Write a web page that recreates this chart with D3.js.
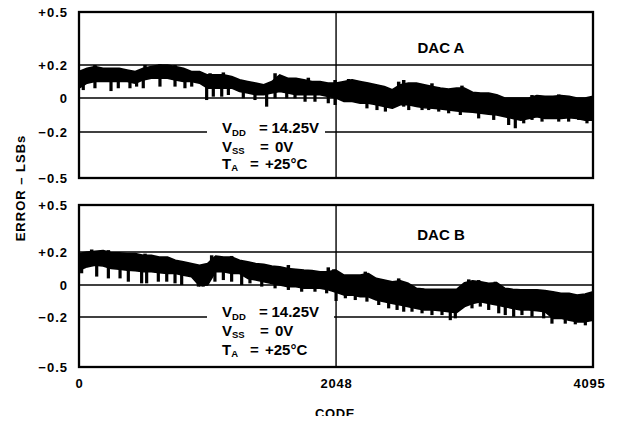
<!DOCTYPE html>
<html>
<head>
<meta charset="utf-8">
<script src="https://cdn.jsdelivr.net/npm/d3@7"></script>
<style>
  html, body { margin: 0; padding: 0; background: #fff; }
  svg { display: block; }
  text { font-family: "Liberation Sans", Arial, Helvetica, sans-serif; font-weight: bold; fill: #000; }
</style>
</head>
<body>
<svg id="chart" width="619" height="425"></svg>
<script>
// ---------------- DATA ----------------
const codes = [0,64,128,192,256,320,384,448,512,576,640,704,768,832,896,960,
  1024,1088,1152,1216,1280,1344,1408,1472,1536,1600,1664,1728,1792,1856,1920,1984,
  2048,2112,2176,2240,2304,2368,2432,2496,2560,2624,2688,2752,2816,2880,2944,3008,
  3072,3136,3200,3264,3328,3392,3456,3520,3584,3648,3712,3776,3840,3904,3968,4032,4095];

// DAC A: upper / lower edge of the error band (LSBs)
const dacAUpper = [0.16,0.18,0.19,0.18,0.18,0.18,0.17,0.16,0.18,0.19,0.20,0.20,0.19,0.18,0.16,0.16,
  0.14,0.14,0.14,0.13,0.11,0.10,0.09,0.08,0.10,0.14,0.12,0.12,0.11,0.10,0.10,0.09,
  0.09,0.10,0.11,0.10,0.09,0.08,0.07,0.05,0.08,0.09,0.09,0.08,0.07,0.06,0.055,0.06,
  0.06,0.035,0.03,0.03,0.02,0.0,0.0,0.0,0.0,0.015,0.01,0.01,0.015,0.01,0.0,0.0,0.01];
const dacALower = [0.06,0.09,0.10,0.10,0.10,0.10,0.10,0.09,0.11,0.12,0.12,0.12,0.11,0.10,0.10,0.09,
  0.06,0.06,0.06,0.06,0.04,0.03,0.02,0.02,0.03,0.04,0.03,0.02,0.02,0.02,0.02,0.01,
  0.0,-0.02,-0.02,-0.03,-0.03,-0.04,-0.05,-0.06,-0.04,-0.04,-0.05,-0.057,-0.06,-0.065,-0.07,-0.076,
  -0.08,-0.084,-0.09,-0.096,-0.10,-0.11,-0.12,-0.13,-0.12,-0.11,-0.12,-0.12,-0.12,-0.116,-0.12,-0.13,-0.13];
// DAC A: downward glitch spikes [code, tip value]
const dacASpikes = [[34,0.048],[127,0.059],[255,0.042],[313,0.059],[406,0.059],[459,0.069],[512,0.059],
  [645,0.069],[765,0.069],[844,0.059],[898,0.069],[1017,-0.012],[1070,0.008],[1137,0.008],[1190,0.018],
  [1309,-0.002],[1402,-0.012],[1495,-0.051],[1562,-0.002],[1655,-0.002],[1721,-0.002],[1801,-0.022],
  [1880,-0.022],[1986,-0.031],[2040,-0.041],[2294,-0.061],[2374,-0.071],[2441,-0.080],[2587,-0.051],
  [2627,-0.071],[2733,-0.071],[2786,-0.071],[2866,-0.080],[2945,-0.090],[3038,-0.100],[3184,-0.120],
  [3304,-0.129],[3423,-0.159],[3476,-0.178],[3543,-0.149],[3609,-0.129],[3689,-0.139],[3742,-0.120],
  [3822,-0.139],[3901,-0.139],[3981,-0.129],[4047,-0.149]];
// DAC A: upward peaks [code, tip value]
const dacAPeaks = [[127,0.20],[526,0.20],[645,0.204],[765,0.20],[1044,0.15],[1150,0.155],[1562,0.15],
  [1827,0.123],[2040,0.109],[2148,0.115],[2547,0.099],[2587,0.109],[2812,0.089],[3051,0.075],
  [3609,0.018],[3822,0.022]];

// DAC B
const dacBUpper = [0.19,0.20,0.205,0.21,0.195,0.195,0.19,0.19,0.18,0.18,0.17,0.17,0.15,0.14,0.13,0.12,
  0.13,0.175,0.17,0.17,0.15,0.14,0.13,0.125,0.115,0.11,0.10,0.095,0.09,0.087,0.08,0.08,
  0.09,0.06,0.06,0.06,0.07,0.04,0.03,0.02,0.026,0.01,-0.02,-0.025,-0.027,-0.027,-0.027,-0.027,
  0.014,0.026,0.02,0.01,0.014,-0.02,-0.027,-0.03,-0.03,-0.03,-0.035,-0.042,-0.052,-0.052,-0.063,-0.056,-0.042];
const dacBLower = [0.09,0.11,0.12,0.115,0.10,0.095,0.09,0.087,0.08,0.08,0.075,0.07,0.07,0.06,0.05,-0.005,
  0.0,0.08,0.08,0.07,0.07,0.04,0.03,0.02,0.01,0.0,-0.01,-0.01,-0.02,-0.02,-0.02,-0.03,
  -0.045,-0.063,-0.063,-0.073,-0.073,-0.094,-0.104,-0.115,-0.125,-0.135,-0.146,-0.156,-0.156,-0.16,-0.167,-0.173,
  -0.135,-0.115,-0.104,-0.115,-0.125,-0.135,-0.146,-0.156,-0.156,-0.16,-0.167,-0.208,-0.208,-0.219,-0.229,-0.229,-0.219];
const dacBSpikes = [[21,0.071],[141,0.051],[234,0.040],[327,0.040],[393,0.020],[499,0.010],[539,0.010],
  [632,0.020],[699,0.020],[765,0.010],[818,0],[951,-0.010],[990,-0.010],[1083,0.020],[1150,0.030],
  [1216,0.020],[1296,0],[1362,0.010],[1456,-0.010],[1562,-0.021],[1668,-0.031],[1774,-0.042],
  [1880,-0.042],[1973,-0.052],[2048,-0.100],[2122,-0.083],[2201,-0.094],[2294,-0.104],[2388,-0.125],
  [2467,-0.146],[2534,-0.156],[2587,-0.167],[2653,-0.167],[2733,-0.177],[2812,-0.188],[2892,-0.188],
  [2958,-0.219],[2998,-0.208],[3131,-0.146],[3197,-0.135],[3264,-0.156],[3344,-0.177],[3396,-0.188],
  [3463,-0.198],[3529,-0.188],[3609,-0.198],[3702,-0.208],[3768,-0.240],[3874,-0.240],[3954,-0.244],[4034,-0.250]];
const dacBPeaks = [[101,0.216],[234,0.212],[526,0.19],[1057,0.18],[1216,0.176],[1668,0.121],[1986,0.107],
  [2029,0.095],[2281,0.081],[2547,0.04],[3105,0.034],[3184,0.03],[3317,0.02]];

const yTickValues = [-0.5, -0.2, 0, 0.2, 0.5];
const yTickLabels = ["\u22120.5", "\u22120.2", "0", "+0.2", "+0.5"];
const gridValues = [-0.2, 0, 0.2];
const xTickValues = [0, 2048, 4095];
const xTickLabels = ["0", "2048", "4095"];
const panelNames = ["DAC A", "DAC B"];
const condMain = ["V", "V", "T"];
const condSub = ["DD", "SS", "A"];
const condValue = ["14.25V", "0V", "+25\u00B0C"];
const xTitle = "CODE";
const yTitle = "ERROR \u2013 LSBs";

// ---------------- DRAW ----------------
const svg = d3.select("#chart");
const x = d3.scaleLinear().domain([0, 4095]).range([79, 593]);

const panels = [
  { name: panelNames[0], upper: dacAUpper, lower: dacALower, spikes: dacASpikes, peaks: dacAPeaks,
    yRange: [178, 132, 98, 65, 12], labelY: 52.5, condY: [133, 151.5, 168.5], maskRight: 325 },
  { name: panelNames[1], upper: dacBUpper, lower: dacBLower, spikes: dacBSpikes, peaks: dacBPeaks,
    yRange: [367, 317, 285, 252, 205], labelY: 240, condY: [317, 335.5, 354.5], maskRight: 334 }
];
const condEq = [259, 260, 250], condVal = [271.5, 275, 265];

panels.forEach((p, pi) => {
  const y = d3.scaleLinear().domain(yTickValues).range(p.yRange);
  const g = svg.append("g");
  const top = y(0.5), bot = y(-0.5);

  // grid
  g.selectAll("line.grid").data(gridValues).join("line")
    .attr("x1", x(0)).attr("x2", x(4095))
    .attr("y1", d => y(d)).attr("y2", d => y(d))
    .attr("stroke", "#000").attr("stroke-width", 1.4);
  g.append("line")
    .attr("x1", x(2048)).attr("x2", x(2048))
    .attr("y1", top).attr("y2", bot)
    .attr("stroke", "#000").attr("stroke-width", 1.4);

  // mask behind conditions text
  g.append("rect")
    .attr("x", 207).attr("y", y(-0.2) - 10)
    .attr("width", p.maskRight - 207).attr("height", bot - y(-0.2) + 8)
    .attr("fill", "#fff");

  // data band
  const pts = codes.map((c, i) => ({ c, u: p.upper[i], l: p.lower[i] }));
  const area = d3.area().x(d => x(d.c)).y0(d => y(d.l)).y1(d => y(d.u));
  g.append("path").datum(pts).attr("d", area).attr("fill", "#000")
    .attr("stroke", "#000").attr("stroke-width", 1.6).attr("stroke-linejoin", "round");

  const lowerAt = d3.scaleLinear().domain(codes).range(p.lower);
  const upperAt = d3.scaleLinear().domain(codes).range(p.upper);
  g.selectAll("line.spike").data(p.spikes).join("line")
    .attr("x1", d => x(d[0])).attr("x2", d => x(d[0]))
    .attr("y1", d => y(lowerAt(d[0]) + 0.02)).attr("y2", d => y(d[1]))
    .attr("stroke", "#000").attr("stroke-width", 3.2);
  g.selectAll("line.peak").data(p.peaks).join("line")
    .attr("x1", d => x(d[0])).attr("x2", d => x(d[0]))
    .attr("y1", d => y(upperAt(d[0]) - 0.02)).attr("y2", d => y(d[1]))
    .attr("stroke", "#000").attr("stroke-width", 3.5);

  // conditions
  condMain.forEach((m, i) => {
    const t = g.append("text").attr("font-size", 15).attr("y", p.condY[i]);
    t.append("tspan").attr("x", 222).attr("y", p.condY[i]).text(m);
    t.append("tspan").attr("font-size", 9.5).attr("y", p.condY[i] + 2.5).text(condSub[i]);
    t.append("tspan").attr("x", condEq[i]).attr("y", p.condY[i]).text("=");
    t.append("tspan").attr("x", condVal[i]).attr("y", p.condY[i]).text(condValue[i]);
  });

  // frame
  g.append("rect")
    .attr("x", x(0)).attr("y", top)
    .attr("width", x(4095) - x(0)).attr("height", bot - top)
    .attr("fill", "none").attr("stroke", "#000").attr("stroke-width", 2.3);

  // panel label
  g.append("text").attr("x", 441).attr("y", p.labelY)
    .attr("text-anchor", "middle").attr("font-size", 15).text(p.name);

  // y axis
  const ax = d3.axisLeft(y).tickValues(yTickValues)
    .tickFormat((d, i) => yTickLabels[i]).tickSize(0).tickPadding(11);
  const axg = svg.append("g").attr("transform", `translate(${x(0)},0)`).call(ax);
  axg.select(".domain").remove();
  axg.selectAll("text").attr("font-size", 13).attr("font-family", null)
    .style("letter-spacing", "1px").attr("fill", "#000");

  if (pi === 1) {
    const xa = d3.axisBottom(x).tickValues(xTickValues)
      .tickFormat((d, i) => xTickLabels[i]).tickSize(0).tickPadding(12);
    const xg = svg.append("g").attr("transform", `translate(0,${bot})`).call(xa);
    xg.select(".domain").remove();
    xg.selectAll("text").attr("font-size", 13).attr("font-family", null)
      .style("letter-spacing", "0.8px").attr("fill", "#000");
    xg.selectAll(".tick").filter(d => d === 4095).select("text").attr("dx", -4);
  }
});

// axis titles
svg.append("defs").append("clipPath").attr("id", "cut")
  .append("rect").attr("x", 0).attr("y", 0).attr("width", 619).attr("height", 416);
svg.append("text").attr("x", 335).attr("y", 417.5)
  .attr("text-anchor", "middle").attr("font-size", 13)
  .style("letter-spacing", "0.6px").attr("clip-path", "url(#cut)").text(xTitle);
svg.append("text").attr("transform", "translate(25,188) rotate(-90)")
  .attr("text-anchor", "middle").attr("font-size", 13)
  .style("letter-spacing", "1px").text(yTitle);
</script>
</body>
</html>
